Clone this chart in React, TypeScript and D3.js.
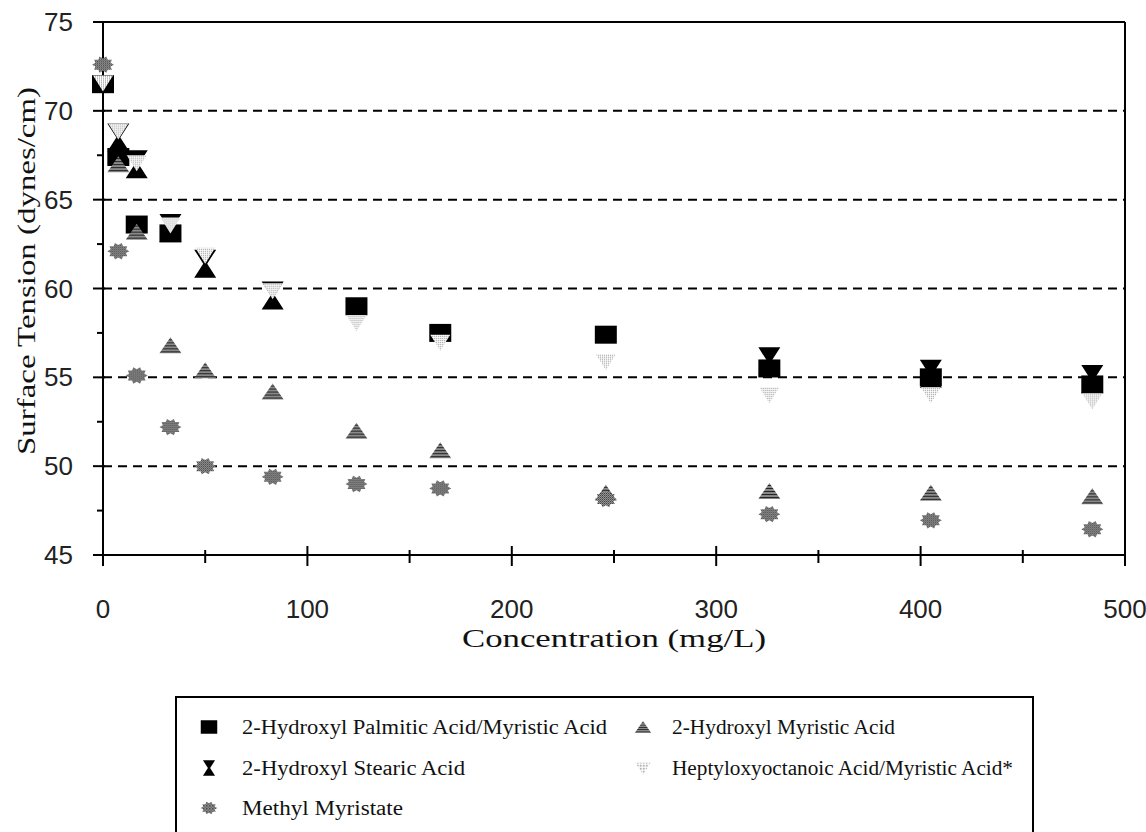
import * as React from "react";
import * as d3 from "d3";

// concentration (mg/L) shared by all series
const concentrations = [0, 7.5, 16.5, 33, 50, 83, 124, 165, 246, 326, 405, 484];

// surface tension (dynes/cm), null = no point
const palmiticMyristic = [71.5, 67.4, 63.6, 63.1, null, null, 59.0, 57.5, 57.4, 55.5, 55.0, 54.6];
const hydroxylMyristic = [null, 67.0, 63.2, 56.8, 55.4, 54.2, 52.0, 50.9, 48.5, 48.6, 48.5, 48.3];
const hydroxylStearic = [null, 68.5, 67.0, 63.4, 61.4, 59.6, null, null, null, 55.9, 55.2, 54.9];
const heptyloxyMyristic = [71.6, 68.9, 67.1, 63.6, 61.9, 59.9, 58.1, 57.0, 55.9, 54.05, 54.05, 53.7];
const methylMyristate = [72.6, 62.1, 55.1, 52.2, 50.0, 49.4, 49.0, 48.75, 48.15, 47.3, 46.95, 46.45];

const yTicks = [45, 50, 55, 60, 65, 70, 75];
const xTicks = [0, 100, 200, 300, 400, 500];

const seriesNames = [
  "2-Hydroxyl Palmitic Acid/Myristic Acid",
  "2-Hydroxyl Myristic Acid",
  "2-Hydroxyl Stearic Acid",
  "Heptyloxyoctanoic Acid/Myristic Acid*",
  "Methyl Myristate",
];

function starPath(n, r1, r2, sy) {
  const pts = d3.range(n * 2).map(i => {
    const a = (i / (n * 2)) * Math.PI * 2;
    const r = i % 2 === 0 ? r1 : r2;
    return [Math.cos(a) * r, Math.sin(a) * r * sy];
  });
  return "M" + pts.map(p => p[0].toFixed(1) + "," + p[1].toFixed(1)).join("L") + "Z";
}

const markers = [
  {path: "M-11,-9H11V9H-11Z", fill: "#000"},
  {path: "M0,-8L11,8H-11Z", fill: "url(#hatch)"},
  {path: "M-11,-14H11L2,0L11,14H-11L-2,0Z", fill: "#000"},
  {path: "M-10,-7H10L0,9Z", fill: "url(#dots)"},
  {path: starPath(10, 11, 8, 0.78), fill: "url(#checker)"},
];

export default function App() {
  const ref = React.useRef(null);

  React.useEffect(() => {
    const svg = d3.select(ref.current);
    svg.selectAll("*").remove();

    const left = 103, right = 1125, top = 22, bottom = 555;

    const x = d3.scaleLinear().domain([0, 500]).range([left, right]);
    const y = d3.scaleLinear().domain([45, 75]).range([bottom, top]);

    const defs = svg.append("defs");
    const hatch = defs.append("pattern").attr("id", "hatch")
      .attr("patternUnits", "userSpaceOnUse").attr("width", 3).attr("height", 3);
    hatch.append("rect").attr("width", 3).attr("height", 3).attr("fill", "#8a8a8a");
    hatch.append("rect").attr("width", 3).attr("height", 1).attr("fill", "#222");

    const dots = defs.append("pattern").attr("id", "dots")
      .attr("patternUnits", "userSpaceOnUse").attr("width", 2).attr("height", 2);
    dots.append("rect").attr("width", 2).attr("height", 2).attr("fill", "#fff");
    dots.append("rect").attr("width", 1).attr("height", 1).attr("fill", "#8a8a8a");

    const checker = defs.append("pattern").attr("id", "checker")
      .attr("patternUnits", "userSpaceOnUse").attr("width", 2).attr("height", 2);
    checker.append("rect").attr("width", 2).attr("height", 2).attr("fill", "#a8a8a8");
    checker.append("rect").attr("width", 1).attr("height", 1).attr("fill", "#2a2a2a");
    checker.append("rect").attr("x", 1).attr("y", 1).attr("width", 1).attr("height", 1).attr("fill", "#555");

    // dashed gridlines
    svg.append("g").selectAll("line")
      .data(yTicks.filter(t => t > 45 && t < 75))
      .enter().append("line")
      .attr("x1", left).attr("x2", right)
      .attr("y1", d => y(d)).attr("y2", d => y(d))
      .attr("stroke", "#000").attr("stroke-width", 2)
      .attr("stroke-dasharray", "9,6");

    // frame: top and right solid, axes
    svg.append("line").attr("x1", left).attr("x2", right).attr("y1", top).attr("y2", top)
      .attr("stroke", "#000").attr("stroke-width", 2);
    svg.append("line").attr("x1", right).attr("x2", right).attr("y1", top).attr("y2", bottom)
      .attr("stroke", "#000").attr("stroke-width", 2);
    svg.append("line").attr("x1", left).attr("x2", left).attr("y1", top).attr("y2", bottom)
      .attr("stroke", "#000").attr("stroke-width", 2);
    svg.append("line").attr("x1", left).attr("x2", right).attr("y1", bottom).attr("y2", bottom)
      .attr("stroke", "#000").attr("stroke-width", 2);

    // y ticks
    const yMinor = d3.range(47.5, 75, 5);
    svg.append("g").selectAll("line").data(yTicks).enter().append("line")
      .attr("x1", left - 10).attr("x2", left + 2)
      .attr("y1", d => y(d)).attr("y2", d => y(d))
      .attr("stroke", "#000").attr("stroke-width", 2);
    svg.append("g").selectAll("line").data(yMinor).enter().append("line")
      .attr("x1", left - 6).attr("x2", left)
      .attr("y1", d => y(d)).attr("y2", d => y(d))
      .attr("stroke", "#000").attr("stroke-width", 2);
    svg.append("g").selectAll("text").data(yTicks).enter().append("text")
      .attr("x", 73).attr("y", d => y(d) + 9)
      .attr("text-anchor", "end")
      .attr("font-family", "Liberation Sans, Arial, sans-serif")
      .attr("font-size", 26).attr("fill", "#222")
      .text(d => d);

    // x ticks
    const xMinor = d3.range(50, 500, 100);
    svg.append("g").selectAll("line").data(xTicks).enter().append("line")
      .attr("x1", d => x(d)).attr("x2", d => x(d))
      .attr("y1", bottom - 9).attr("y2", bottom + 11)
      .attr("stroke", "#000").attr("stroke-width", 2);
    svg.append("g").selectAll("line").data(xMinor).enter().append("line")
      .attr("x1", d => x(d)).attr("x2", d => x(d))
      .attr("y1", bottom - 5).attr("y2", bottom + 8)
      .attr("stroke", "#000").attr("stroke-width", 2);
    svg.append("g").selectAll("text").data(xTicks).enter().append("text")
      .attr("x", d => x(d)).attr("y", 618)
      .attr("text-anchor", "middle")
      .attr("font-family", "Liberation Sans, Arial, sans-serif")
      .attr("font-size", 26).attr("fill", "#222")
      .text(d => d);

    // axis titles
    svg.append("text")
      .attr("x", 614).attr("y", 647)
      .attr("text-anchor", "middle")
      .attr("font-family", "Liberation Serif, Times New Roman, serif")
      .attr("font-size", 25).attr("fill", "#111")
      .attr("textLength", 304).attr("lengthAdjust", "spacingAndGlyphs")
      .text("Concentration (mg/L)");
    svg.append("text")
      .attr("transform", "translate(35,271) rotate(-90)")
      .attr("text-anchor", "middle")
      .attr("font-family", "Liberation Serif, Times New Roman, serif")
      .attr("font-size", 25).attr("fill", "#111")
      .attr("textLength", 368).attr("lengthAdjust", "spacingAndGlyphs")
      .text("Surface Tension (dynes/cm)");

    // points, drawn in series order so later series sit on top
    const allSeries = [palmiticMyristic, hydroxylMyristic, hydroxylStearic, heptyloxyMyristic, methylMyristate];
    allSeries.forEach((vals, si) => {
      const pts = vals.map((v, i) => ({c: concentrations[i], v})).filter(d => d.v != null);
      svg.append("g").selectAll("path").data(pts).enter().append("path")
        .attr("d", markers[si].path)
        .attr("fill", markers[si].fill)
        .attr("transform", d => `translate(${x(d.c)},${y(d.v)})`);
    });

    // legend
    const lg = svg.append("g");
    lg.append("rect")
      .attr("x", 176).attr("y", 697).attr("width", 857).attr("height", 150)
      .attr("fill", "#fff").attr("stroke", "#000").attr("stroke-width", 2);
    const legendPos = [
      {mx: 209, tx: 242, y: 727, w: 365},
      {mx: 643, tx: 672, y: 727, w: 223},
      {mx: 209, tx: 242, y: 768, w: 223},
      {mx: 643, tx: 672, y: 768, w: 341},
      {mx: 209, tx: 242, y: 808, w: 161},
    ];
    seriesNames.forEach((name, i) => {
      const p = legendPos[i];
      lg.append("path")
        .attr("d", markers[i].path)
        .attr("fill", markers[i].fill)
        .attr("transform", `translate(${p.mx},${p.y}) scale(${i === 2 ? 0.55 : 0.75})`);
      lg.append("text")
        .attr("x", p.tx).attr("y", p.y + 7)
        .attr("font-family", "Liberation Serif, Times New Roman, serif")
        .attr("font-size", 20).attr("fill", "#111")
        .attr("textLength", p.w).attr("lengthAdjust", "spacingAndGlyphs")
        .text(name);
    });
  }, []);

  return (
    <svg ref={ref} width={1146} height={832}
      style={{position: "absolute", left: 0, top: 0, background: "#fff", display: "block"}} />
  );
}
